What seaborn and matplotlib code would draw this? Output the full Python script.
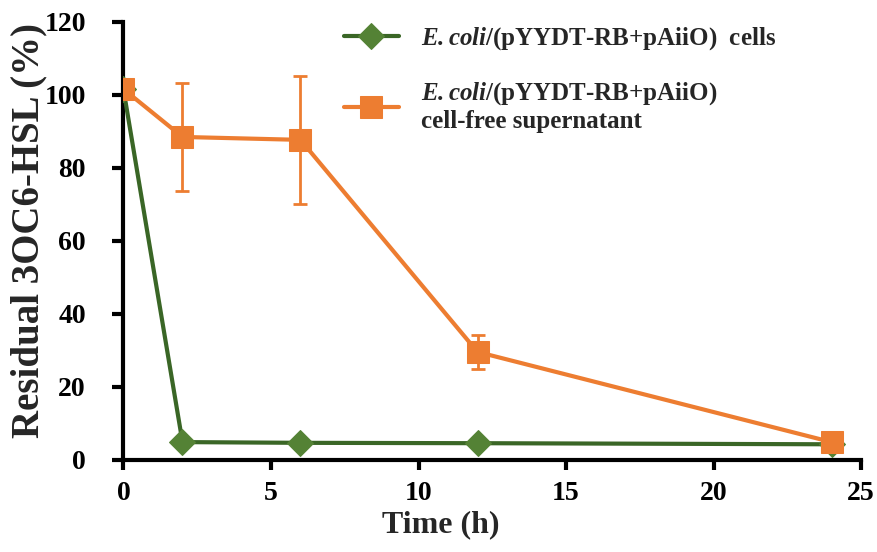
import matplotlib
matplotlib.use("Agg")
import matplotlib.pyplot as plt
import seaborn as sns
import numpy as np
import pandas as pd

time_h = [0, 2, 6, 12, 24]
cells = [101.5, 4.9, 4.7, 4.6, 4.3]
supernatant = [101.6, 88.5, 87.7, 29.6, 4.9]
supernatant_err = [0.0, 14.8, 17.6, 4.6, 0.0]

label_cells = r"$\mathbfit{E. coli}$/(pYYDT-RB+pAiiO)  cells"
label_sup = r"$\mathbfit{E. coli}$/(pYYDT-RB+pAiiO)" + "\ncell-free supernatant"

sns.set_theme(style="white")
plt.rcParams["font.family"] = ["Liberation Serif", "DejaVu Serif"]
plt.rcParams["font.weight"] = "bold"
plt.rcParams["mathtext.fontset"] = "custom"
plt.rcParams["mathtext.rm"] = "Liberation Serif:bold"
plt.rcParams["mathtext.it"] = "Liberation Serif:italic:bold"
plt.rcParams["mathtext.bf"] = "Liberation Serif:bold"
plt.rcParams["mathtext.bfit"] = "Liberation Serif:italic:bold"

fig = plt.figure(figsize=(8.77, 5.52), dpi=100)
ax = fig.add_axes([0.1408, 0.1667, 0.841, 0.7935])

df_c = pd.DataFrame({"t": time_h, "v": cells})
df_s = pd.DataFrame({"t": time_h, "v": supernatant})

green_line = "#3a6626"
green_mk = "#548235"
orange = "#ED7D31"

sns.lineplot(data=df_c, x="t", y="v", ax=ax, color=green_line, lw=3,
             marker="D", markersize=13, markerfacecolor=green_mk,
             markeredgecolor=green_mk, label=label_cells, zorder=3)
ax.errorbar(time_h, supernatant, yerr=supernatant_err, fmt="none",
            ecolor=orange, elinewidth=2, capsize=5, capthick=2, zorder=4)
sns.lineplot(data=df_s, x="t", y="v", ax=ax, color=orange, lw=3,
             marker="s", markersize=16, markerfacecolor=orange,
             markeredgecolor=orange, label=label_sup, zorder=5)

ax.set_xlim(0, 25)
ax.set_ylim(0, 120)
ax.set_xticks([0, 5, 10, 15, 20, 25])
ax.set_yticks([0, 20, 40, 60, 80, 100, 120])
ax.set_xlabel("Time (h)", fontsize=23, fontweight="bold", labelpad=1)
ax.xaxis.set_label_coords(0.43, -0.115)
ax.set_ylabel("Residual 3OC6-HSL (%)", fontsize=28, fontweight="bold")
ax.yaxis.set_label_coords(-0.103, 0.525)
ax.tick_params(axis="x", labelsize=20, direction="out", length=7, width=3,
               bottom=True, pad=8, colors="black")
ax.tick_params(axis="y", labelsize=20, direction="out", length=8, width=3,
               left=True, pad=19, colors="black")
for lab in ax.get_xticklabels() + ax.get_yticklabels():
    lab.set_fontweight("bold")
for s in ["top", "right"]:
    ax.spines[s].set_visible(False)
for s in ["left", "bottom"]:
    ax.spines[s].set_color("black")
    ax.spines[s].set_linewidth(3)

leg = ax.legend(loc="upper left", bbox_to_anchor=(0.285, 1.015), frameon=False,
                fontsize=18, handlelength=2.2, handletextpad=0.9,
                labelspacing=1.1, borderaxespad=0)
for t in leg.get_texts():
    t.set_fontweight("bold")

fig.savefig("out.png", dpi=100)
